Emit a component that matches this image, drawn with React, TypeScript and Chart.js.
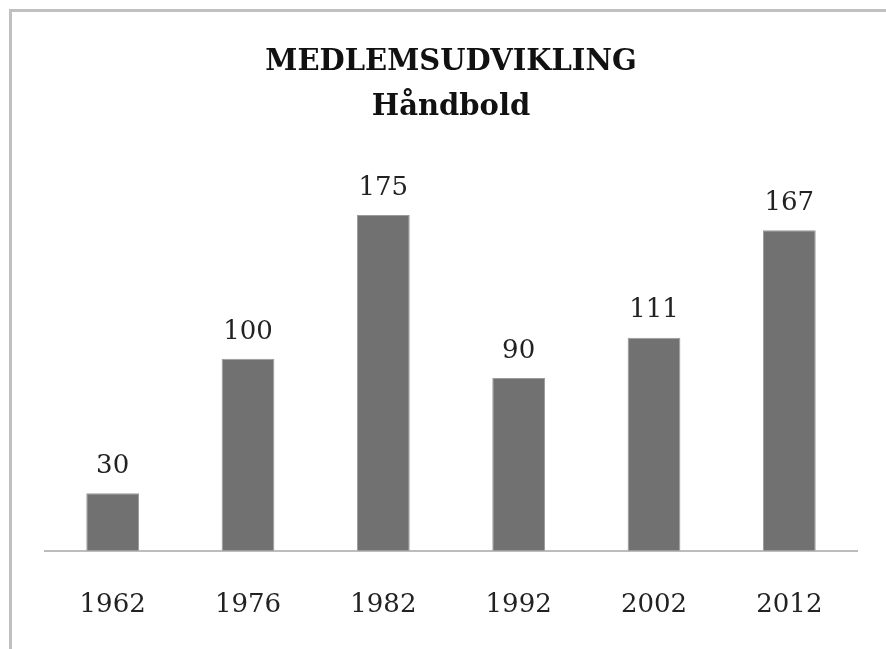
import React, { useEffect, useRef } from "react";
import { Chart, registerables } from "chart.js";

Chart.register(...registerables);

const categories = ["1962", "1976", "1982", "1992", "2002", "2012"];
const members = [30, 100, 175, 90, 111, 167];
const titleLines = ["MEDLEMSUDVIKLING", "Håndbold"];
const yMax = 200;

const FONT = "'DejaVu Serif', 'Liberation Serif', serif";

const valueLabels = {
  id: "valueLabels",
  afterDatasetsDraw(chart: any) {
    const ctx = chart.ctx;
    const meta = chart.getDatasetMeta(0);
    const data = chart.data.datasets[0].data as number[];
    ctx.save();
    ctx.font = `26px ${FONT}`;
    ctx.fillStyle = "#222";
    ctx.textAlign = "center";
    ctx.textBaseline = "middle";
    meta.data.forEach((bar: any, i: number) => {
      ctx.fillText(String(data[i]), bar.x, bar.y - 27);
    });
    ctx.restore();
  },
};

export default function App() {
  const ref = useRef<HTMLCanvasElement | null>(null);
  useEffect(() => {
    if (!ref.current) return;
    const chart = new Chart(ref.current, {
      type: "bar",
      data: {
        labels: categories,
        datasets: [
          {
            data: members,
            backgroundColor: "#717171",
            borderColor: "#9a9a9a",
            borderWidth: 1,
            categoryPercentage: 1,
            barPercentage: 0.39,
          },
        ],
      },
      options: {
        animation: false,
        responsive: false,
        maintainAspectRatio: false,
        layout: { padding: { left: 45, right: 29, top: 0, bottom: -3 } },
        plugins: {
          legend: { display: false },
          tooltip: { enabled: false },
          title: {
            display: true,
            text: titleLines,
            color: "#111",
            font: { family: FONT, size: 29, weight: "bold", lineHeight: 1.55 },
            padding: { top: 40, bottom: 37 },
          },
        },
        scales: {
          x: {
            grid: { display: false },
            border: { display: true, color: "#bcbcbc", width: 2 },
            ticks: {
              color: "#222",
              font: { family: FONT, size: 26 },
              padding: 31,
              maxRotation: 0,
            },
          },
          y: {
            display: false,
            min: 0,
            max: yMax,
          },
        },
      },
      plugins: [valueLabels],
    });
    return () => chart.destroy();
  }, []);

  return (
    <div
      style={{
        position: "fixed",
        left: 0,
        top: 0,
        width: 886,
        height: 649,
        overflow: "hidden",
        background: "#fff",
      }}
    >
      <canvas
        ref={ref}
        width={886}
        height={649}
        style={{ position: "absolute", left: 0, top: 0, width: 886, height: 649 }}
      />
      <div
        style={{
          position: "absolute",
          left: 9,
          top: 9,
          width: 1000,
          height: 1000,
          border: "3px solid #c0c0c0",
          boxSizing: "border-box",
          pointerEvents: "none",
        }}
      />
    </div>
  );
}
